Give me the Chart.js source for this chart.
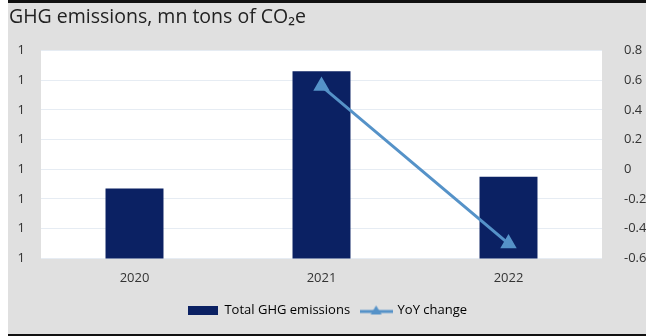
<!DOCTYPE html>
<html>
<head>
<meta charset="utf-8">
<script src="https://cdn.jsdelivr.net/npm/chart.js@4/dist/chart.umd.min.js"></script>
<style>
  html, body { margin: 0; padding: 0; background: #fff; }
  #frame {
    position: absolute; left: 8px; top: 0; width: 638px; height: 336px;
    background: #e0e0e0; border-top: 3px solid #111; border-bottom: 2px solid #111;
    box-sizing: border-box;
  }
  #wrap { position: absolute; left: 0; top: 0; width: 646px; height: 336px; }
</style>
</head>
<body>
<div id="frame"></div>
<div id="wrap"><canvas id="ghgChart"></canvas></div>
<script>
// Chart data
const years = ['2020', '2021', '2022'];
const totalEmissions = [1.4147, 1.4226, 1.4155];
const yoyChange = [null, 0.56, -0.5];
const leftAxis = { min: 1.410, max: 1.424, step: 0.002 };
const rightAxis = { min: -0.6, max: 0.8, step: 0.2 };

const navy = '#0b2163';
const lightBlue = '#5592c8';
const textColor = '#333333';
const fontFamily = '"Open Sans", "Noto Sans", sans-serif';

// Legend swatches
const barSwatch = document.createElement('canvas');
barSwatch.width = 30; barSwatch.height = 9;
let sctx = barSwatch.getContext('2d');
sctx.fillStyle = navy;
sctx.fillRect(0, 0, 30, 9);

const lineSwatch = document.createElement('canvas');
lineSwatch.width = 33; lineSwatch.height = 12;
sctx = lineSwatch.getContext('2d');
sctx.strokeStyle = lightBlue;
sctx.lineWidth = 3;
sctx.beginPath(); sctx.moveTo(0, 7); sctx.lineTo(33, 7); sctx.stroke();
sctx.fillStyle = lightBlue;
sctx.beginPath(); sctx.moveTo(16.5, 1); sctx.lineTo(22, 10); sctx.lineTo(11, 10); sctx.closePath(); sctx.fill();

// White plot area
const plotBackground = {
    id: 'plotBackground',
    beforeDraw(chart) {
        const { ctx, chartArea: a } = chart;
        ctx.save();
        ctx.fillStyle = '#ffffff';
        ctx.fillRect(a.left, a.top, a.right - a.left, a.bottom - a.top);
        ctx.restore();
    }
};

const ctx = document.getElementById('ghgChart').getContext('2d');
const ghgChart = new Chart(ctx, {
    data: {
        labels: years,
        datasets: [{
            type: 'line',
            label: 'YoY change',
            data: yoyChange,
            yAxisID: 'y1',
            borderColor: lightBlue,
            backgroundColor: lightBlue,
            borderWidth: 3,
            pointStyle: 'triangle',
            pointRadius: 6.5,
            pointHoverRadius: 6.5,
            tension: 0,
            order: 0
        }, {
            type: 'bar',
            label: 'Total GHG emissions',
            data: totalEmissions,
            yAxisID: 'y',
            backgroundColor: navy,
            barPercentage: 0.31,
            categoryPercentage: 1,
            order: 1
        }]
    },
    options: {
        responsive: true,
        maintainAspectRatio: false,
        animation: false,
        layout: { padding: { left: 9, right: 0, top: 0, bottom: 9 } },
        plugins: {
            title: {
                display: true,
                text: 'GHG emissions, mn tons of CO₂e',
                align: 'start',
                color: '#222222',
                font: { family: fontFamily, size: 19.5, weight: 'normal' },
                padding: { top: 6, bottom: 21 }
            },
            legend: {
                position: 'bottom',
                labels: {
                    usePointStyle: true,
                    pointStyleWidth: 30,
                    color: textColor,
                    font: { family: fontFamily, size: 13 },
                    padding: 11,
                    generateLabels() {
                        return [
                            { text: 'Total GHG emissions', pointStyle: barSwatch, fillStyle: navy, strokeStyle: navy, lineWidth: 0, datasetIndex: 1 },
                            { text: 'YoY change', pointStyle: lineSwatch, fillStyle: lightBlue, strokeStyle: lightBlue, lineWidth: 0, datasetIndex: 0 }
                        ];
                    }
                }
            },
            tooltip: { enabled: false }
        },
        scales: {
            x: {
                grid: { display: false },
                border: { display: false },
                ticks: { color: textColor, font: { family: fontFamily, size: 13 }, padding: 4 },
                afterFit(scale) { scale.height += 3; }
            },
            y: {
                position: 'left',
                min: leftAxis.min,
                max: leftAxis.max,
                grid: { color: '#e6ecf3', drawTicks: false },
                border: { display: false },
                ticks: {
                    stepSize: leftAxis.step,
                    color: textColor,
                    font: { family: fontFamily, size: 13 },
                    padding: 16,
                    callback: v => v.toFixed(0)
                },
                afterFit(scale) { scale.width = 32; }
            },
            y1: {
                position: 'right',
                min: rightAxis.min,
                max: rightAxis.max,
                grid: { display: false },
                border: { display: false },
                ticks: {
                    stepSize: rightAxis.step,
                    color: textColor,
                    font: { family: fontFamily, size: 13 },
                    padding: 14,
                    callback: v => String(Math.round(v * 10) / 10)
                },
                afterFit(scale) { scale.width = 44; }
            }
        }
    },
    plugins: [plotBackground]
});
</script>
</body>
</html>
